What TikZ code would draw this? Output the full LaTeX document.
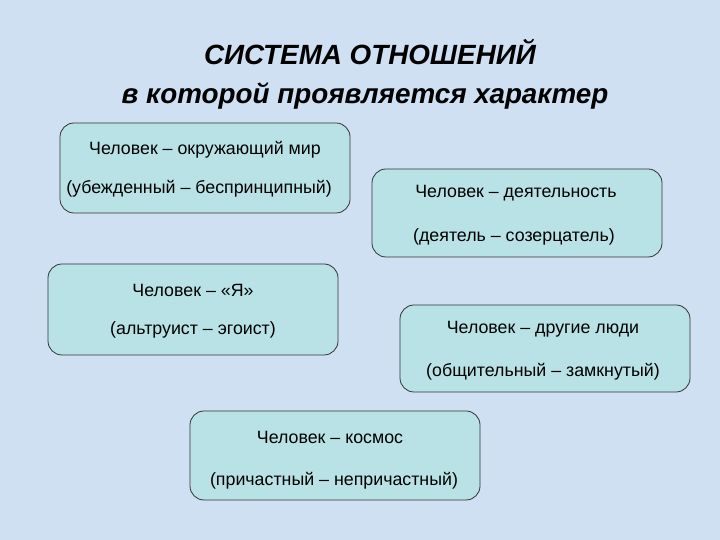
\documentclass[tikz,border=0pt]{standalone}
\usepackage{fontspec}
\setmainfont{Liberation Sans}
\begin{document}
\begin{tikzpicture}[x=1pt,y=1pt,
  relbox/.style={draw=black!80, line width=0.8pt, fill=boxfill, rounded corners=14pt},
  reltext/.style={font=\fontsize{17.8}{21}\selectfont, text=black},
  titletext/.style={font=\fontsize{27.8}{32}\selectfont\bfseries\itshape, text=black}]
\definecolor{bgblue}{RGB}{206,224,242}
\definecolor{boxfill}{RGB}{184,226,230}
\useasboundingbox (0,0) rectangle (720,540);
\fill[bgblue] (0,0) rectangle (720,540);
% title
\node[titletext] (t1) at (370,488) {СИСТЕМА ОТНОШЕНИЙ};
\node[titletext] (t2) at (365,444) {в которой проявляется характер};
% box 1
\draw[relbox] (60,327) rectangle (350,417);
\node[reltext] (b1a) at (205,390) {Человек – окружающий мир};
\node[reltext] (b1b) at (199,351) {(убежденный – беспринципный)};
% box 2
\draw[relbox] (372,283) rectangle (662,371);
\node[reltext] (b2a) at (516,347) {Человек – деятельность};
\node[reltext] (b2b) at (514,303) {(деятель – созерцатель)};
% box 3
\draw[relbox] (48,185) rectangle (338,276);
\node[reltext] (b3a) at (193,250) {Человек – «Я»};
\node[reltext] (b3b) at (193,210) {(альтруист – эгоист)};
% box 4
\draw[relbox] (400,148) rectangle (690,235);
\node[reltext] (b4a) at (543,211) {Человек – другие люди};
\node[reltext] (b4b) at (543,168) {(общительный – замкнутый)};
% box 5
\draw[relbox] (190,40) rectangle (480,129);
\node[reltext] (b5a) at (330,103) {Человек – космос};
\node[reltext] (b5b) at (334,59) {(причастный – непричастный)};
\end{tikzpicture}
\end{document}
